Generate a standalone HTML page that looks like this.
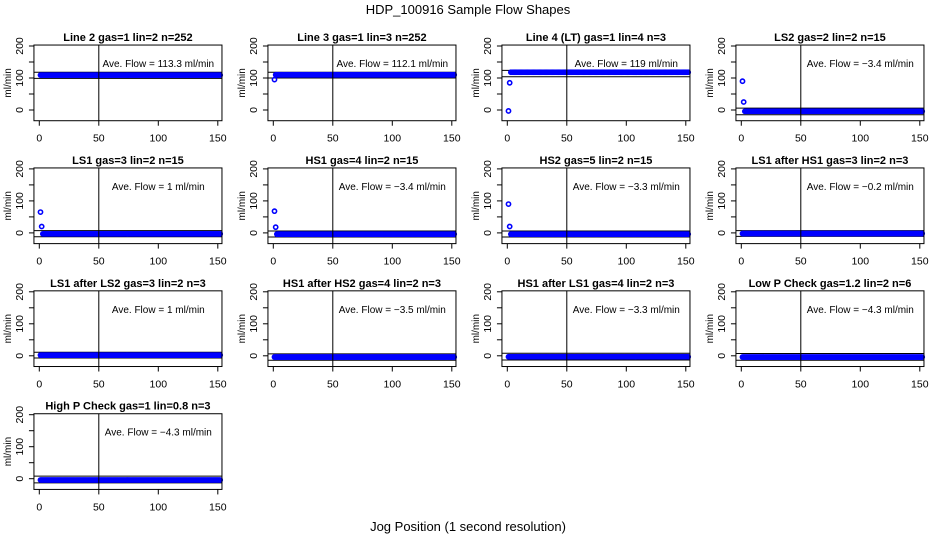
<!DOCTYPE html>
<html><head><meta charset="utf-8"><style>
html,body{margin:0;padding:0;background:#fff;}
svg{display:block;font-family:"Liberation Sans",Arial,sans-serif;}
</style></head><body>
<svg id="chart" width="936" height="540" viewBox="0 0 936 540" xmlns="http://www.w3.org/2000/svg">
<rect x="0" y="0" width="936" height="540" fill="#fff"/>
<text x="468" y="14" font-size="13" text-anchor="middle">HDP_100916  Sample Flow Shapes</text>
<text x="468" y="531" font-size="13" text-anchor="middle">Jog Position (1 second resolution)</text>
<g id="panels"></g>
</svg>
<script>
const titles = ["Line 2 gas=1 lin=2 n=252","Line 3 gas=1 lin=3 n=252","Line 4 (LT) gas=1 lin=4 n=3","LS2 gas=2 lin=2 n=15","LS1 gas=3 lin=2 n=15","HS1 gas=4 lin=2 n=15","HS2 gas=5 lin=2 n=15","LS1 after HS1 gas=3 lin=2 n=3","LS1 after LS2 gas=3 lin=2 n=3","HS1 after HS2 gas=4 lin=2 n=3","HS1 after LS1 gas=4 lin=2 n=3","Low P Check gas=1.2 lin=2 n=6","High P Check gas=1 lin=0.8 n=3"];
const aveFlow = ["113.3","112.1","119","-3.4","1","-3.4","-3.3","-0.2","1","-3.5","-3.3","-4.3","-4.3"];
const steadyFlow = [109,110,118,-4,-3,-4,-4,-2,2,-4,-3,-4,-4];
const startFlow = [[109],[95,110],[-3,85,118],[90,25],[65,20],[68,18],[90,20],[-2],[2],[-4],[-3],[-4],[-4]];
const bandUpper = [118,118,124,6,7,6,6,7,11,6,8,7,8];
const bandLower = [99,100,104,-15,-12,-13,-13,-11,-7,-14,-13,-14,-13];
const nPoints = 152;
const xTicks = [0,50,100,150];
const yTicks = [0,50,100,150,200];
const yLabels = [0,100,200];

const NS="http://www.w3.org/2000/svg";
const g=document.getElementById('panels');
function mk(t,a,p){const e=document.createElementNS(NS,t);for(const k in a)e.setAttribute(k,a[k]);(p||g).appendChild(e);return e;}
const XMIN=-4.5,XMAX=153.5,YMIN=-33.5,YMAX=203;
titles.forEach((title,i)=>{
  const r=Math.floor(i/4),c=i%4;
  const x0=39.3+234*c, zero=110+122.9*r;
  const sx=v=>x0+v*1.19;
  const sy=v=>zero-v*0.32;
  const L=sx(XMIN),R=sx(XMAX),T=sy(YMAX),B=sy(YMIN);
  const pg=mk('g',{});
  
  
  const tt=mk('text',{x:(L+R)/2,y:T-4,'font-size':11,'font-weight':'bold','text-anchor':'middle'},pg);
  tt.textContent=title;
  
  
  [bandUpper[i],bandLower[i]].forEach(v=>{
    const l=mk('line',{x1:L,x2:R,y1:sy(v),y2:sy(v),stroke:'#000','stroke-width':1},pg);
    
    
  });
  const pts=mk('g',{fill:'none',stroke:'#0000ff','stroke-width':1.6},pg);
  
  
  const st=startFlow[i];
  for(let k=0;k<nPoints;k++){
    const v=k<st.length?st[k]:steadyFlow[i];
    const cc=mk('circle',{cx:sx(k+1),cy:sy(v),r:2.1},pts);
    
    
  }
  const vl=mk('line',{x1:sx(50),x2:sx(50),y1:T,y2:B,stroke:'#000','stroke-width':1},pg);
  
  
  const bx=mk('rect',{x:L,y:T,width:R-L,height:B-T,fill:'none',stroke:'#000','stroke-width':1},pg);
  
  
  const av=mk('text',{x:sx(100),y:sy(147)+4,'font-size':10,'text-anchor':'middle'},pg);
  av.textContent='Ave. Flow =  '+aveFlow[i].replace('-','\u2212')+'  ml/min';
  
  
  xTicks.forEach(v=>{
    const tk=mk('line',{x1:sx(v),x2:sx(v),y1:B,y2:B+5,stroke:'#000'},pg);
    
    
    const tl=mk('text',{x:sx(v),y:B+21,'font-size':10.5,'text-anchor':'middle'},pg);
    tl.textContent=v;
    
    
  });
  yTicks.forEach(v=>{
    const tk=mk('line',{x1:L-5,x2:L,y1:sy(v),y2:sy(v),stroke:'#000'},pg);
    
    
  });
  yLabels.forEach(v=>{
    const ty=mk('text',{x:0,y:0,'font-size':10.5,'text-anchor':'middle',transform:`translate(${L-11},${sy(v)}) rotate(-90)`},pg);
    ty.textContent=v;
    
    
  });
  const yl=mk('text',{x:0,y:0,'font-size':10,'text-anchor':'middle',transform:`translate(${L-23},${(T+B)/2}) rotate(-90)`},pg);
  yl.textContent='ml/min';
  
  
});
</script>
</body></html>
